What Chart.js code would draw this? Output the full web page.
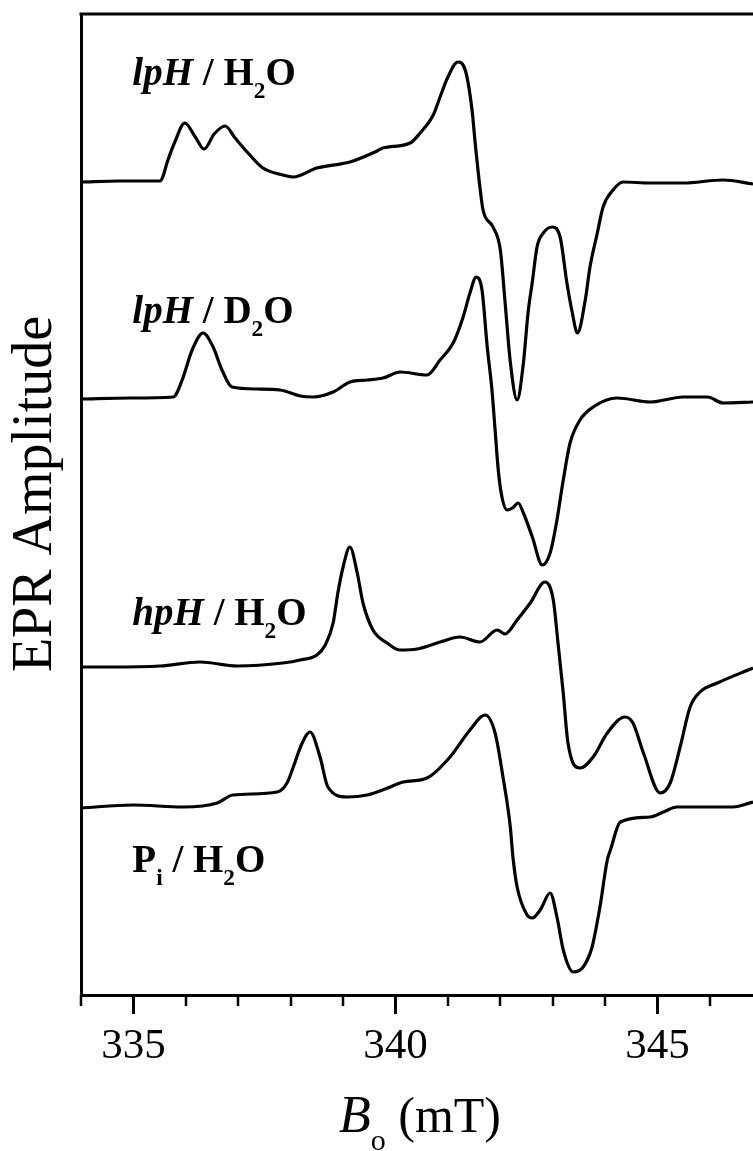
<!DOCTYPE html>
<html>
<head>
<meta charset="utf-8">
<script src="https://cdn.jsdelivr.net/npm/chart.js@4.4.0/dist/chart.umd.min.js"></script>
<style>
  html, body { margin: 0; padding: 0; background: #fff; }
</style>
</head>
<body>
<canvas id="epr" width="753" height="1151"></canvas>
<script>
// field (mT) and amplitude above each trace's own baseline
const fieldA = [334.00,334.74,335.51,335.56,335.64,335.79,335.98,336.18,336.35,336.54,336.75,336.94,337.17,337.47,337.85,338.05,338.50,339.13,339.65,339.76,340.28,340.47,340.72,340.85,341.00,341.19,341.33,341.46,341.52,341.61,341.67,341.86,342.00,342.09,342.19,342.32,342.44,342.53,342.61,342.70,342.82,342.99,343.14,343.27,343.37,343.47,343.62,343.71,343.85,343.96,344.15,344.34,344.86,345.49,346.25,346.82];
const ampA = [0,1,1,5,19,40,59,45,33,48,56,44,30,14,7,5,14,20,31,34,39,49,67,85,105,120,112,72,39,-5,-28,-45,-68,-120,-180,-218,-181,-130,-100,-65,-51,-45,-55,-101,-130,-151,-118,-85,-51,-25,-8,0,-1,-1,2,-2];

const fieldB = [334.00,334.94,335.76,335.93,336.12,336.33,336.52,336.69,336.88,337.36,337.80,338.18,338.43,338.81,339.13,339.46,339.76,340.09,340.60,340.85,341.10,341.29,341.42,341.54,341.65,341.75,341.84,341.90,341.96,342.03,342.13,342.23,342.34,342.44,342.61,342.80,342.95,343.08,343.20,343.33,343.52,343.77,344.23,344.86,345.49,345.95,346.25,346.82];
const ampB = [0,1,2,19,49,66,52,29,12,10,9,3,2,7,17,19,21,27,24,39,56,82,106,122,109,52,9,-31,-71,-98,-111,-109,-104,-114,-138,-166,-154,-121,-81,-44,-21,-8,1,-3,2,2,-4,-3];

const fieldC = [334.00,334.55,335.51,336.27,336.98,337.85,338.18,338.50,338.66,338.81,338.90,339.00,339.13,339.27,339.38,339.57,339.84,340.09,340.41,340.85,341.23,341.61,341.94,342.09,342.32,342.57,342.85,343.01,343.10,343.20,343.29,343.52,343.77,344.04,344.38,344.53,344.73,345.05,345.24,345.43,345.62,345.81,346.14,346.82];
const ampC = [0,0,1,5,1,4,7,12,22,44,74,100,120,94,64,37,24,17,18,25,30,25,37,33,47,64,85,67,24,-26,-76,-101,-90,-66,-50,-56,-86,-126,-116,-80,-40,-25,-16,-1];

const fieldD = [334.00,334.99,335.95,336.60,336.90,337.74,337.93,338.05,338.22,338.37,338.56,338.71,339.08,339.46,339.80,340.15,340.60,341.04,341.42,341.71,341.90,342.05,342.19,342.24,342.32,342.51,342.61,342.76,342.95,343.08,343.20,343.39,343.58,343.75,343.90,344.04,344.10,344.29,344.86,345.11,345.37,346.44,346.82];
const ampD = [0,3,1,5,13,16,25,41,65,76,51,21,11,13,19,26,30,51,78,93,75,31,-19,-49,-79,-107,-110,-102,-85,-109,-142,-164,-159,-139,-99,-52,-42,-14,-9,-4,1,1,6];

// vertical offset of each trace (stacked spectra)
const offsets = [813, 596, 328, 187];

// label text pieces: b = bold, i = italic, s = subscript
const traceLabels = [
    [["lpH","bi"], [" / H","b"], ["2","bs"], ["O","b"]],
    [["lpH","bi"], [" / D","b"], ["2","bs"], ["O","b"]],
    [["hpH","bi"], [" / H","b"], ["2","bs"], ["O","b"]],
    [["P","b"], ["i","bs"], [" / H","b"], ["2","bs"], ["O","b"]]
];
const labelField = 334.98;
const labelLevel = [910, 672, 370, 123];

const tickValues = [334,335,336,337,338,339,340,341,342,343,344,345,346];
const xMin = 334, xMax = 346.82;

const serif = '"Liberation Serif", "Times New Roman", serif';

function makePoints(fields, amps, off){
    var pts = [];
    for (let i = 0; i < fields.length; i++) {
        pts.push({x: fields[i], y: amps[i] + off});
    }
    return pts;
}

function drawRich(ctx, parts, x, y, size){
    parts.forEach((p) => {
        var st = p[1];
        var sub = st.indexOf("s") >= 0;
        var fs = sub ? size * 0.6 : size;
        ctx.font = (st.indexOf("i") >= 0 ? "italic " : "") + (st.indexOf("b") >= 0 ? "bold " : "") + fs + "px " + serif;
        ctx.fillText(p[0], x, sub ? y + size * 0.34 : y);
        x += ctx.measureText(p[0]).width;
    });
}

const decorations = {
    id: "decorations",
    afterDraw(chart){
        const ctx = chart.ctx;
        const area = chart.chartArea;
        const xs = chart.scales.x;
        const ys = chart.scales.y;
        ctx.save();
        ctx.strokeStyle = "#000";
        ctx.fillStyle = "#000";
        // top frame line
        ctx.lineWidth = 3;
        ctx.beginPath();
        ctx.moveTo(area.left - 1.5, area.top);
        ctx.lineTo(area.right, area.top);
        ctx.stroke();
        // minor ticks
        ctx.lineWidth = 2.5;
        tickValues.forEach((v) => {
            if (v % 5 === 0) return;
            var px = Math.round(xs.getPixelForValue(v));
            ctx.beginPath();
            ctx.moveTo(px, area.bottom);
            ctx.lineTo(px, area.bottom + 11);
            ctx.stroke();
        });
        // trace labels
        ctx.textAlign = "left";
        ctx.textBaseline = "alphabetic";
        traceLabels.forEach((parts, i) => {
            drawRich(ctx, parts, xs.getPixelForValue(labelField), ys.getPixelForValue(labelLevel[i]), 39);
        });
        // x axis title: B_o (mT)
        ctx.font = "italic 52px " + serif;
        var wB = ctx.measureText("B").width;
        ctx.font = "30px " + serif;
        var wo = ctx.measureText("o").width;
        ctx.font = "50px " + serif;
        var wU = ctx.measureText(" (mT)").width;
        var cx = (area.left + area.right) / 2 + 3;
        var sx = cx - (wB + wo + wU) / 2;
        var by = 1132;
        ctx.font = "italic 52px " + serif;
        ctx.fillText("B", sx, by);
        ctx.font = "30px " + serif;
        ctx.fillText("o", sx + wB, by + 18);
        ctx.font = "50px " + serif;
        ctx.fillText(" (mT)", sx + wB + wo, by);
        // y axis title
        ctx.translate(51, 494);
        ctx.rotate(-Math.PI / 2);
        ctx.textAlign = "center";
        ctx.font = "56px " + serif;
        ctx.fillText("EPR Amplitude", 0, 0);
        ctx.restore();
    }
};

const series = [
    makePoints(fieldA, ampA, offsets[0]),
    makePoints(fieldB, ampB, offsets[1]),
    makePoints(fieldC, ampC, offsets[2]),
    makePoints(fieldD, ampD, offsets[3])
];

var dataList = series.map((pts) => ({
    data: pts,
    showLine: true,
    borderColor: "#000",
    borderWidth: 3.2,
    pointRadius: 0,
    fill: false,
    cubicInterpolationMode: "monotone"
}));

const ctx = document.getElementById("epr").getContext("2d");
const chart = new Chart(ctx, {
    type: "scatter",
    data: { datasets: dataList },
    plugins: [decorations],
    options: {
        responsive: false,
        animation: false,
        layout: { padding: { top: 14, right: 0, left: 0, bottom: 0 } },
        plugins: {
            legend: { display: false },
            tooltip: { enabled: false }
        },
        scales: {
            x: {
                type: "linear",
                position: "bottom",
                min: xMin,
                max: xMax,
                afterBuildTicks: (scale) => {
                    scale.ticks = tickValues.map((v) => ({value: v}));
                },
                afterFit: (scale) => { scale.height = 156; },
                border: { display: true, color: "#000", width: 3 },
                grid: {
                    drawOnChartArea: false,
                    drawTicks: true,
                    tickLength: 19,
                    tickWidth: 3,
                    tickColor: (c) => (c.tick && c.tick.value % 5 === 0) ? "#000" : "rgba(0,0,0,0)"
                },
                ticks: {
                    color: "#000",
                    padding: 7,
                    maxRotation: 0,
                    autoSkip: false,
                    font: { family: serif, size: 43 },
                    callback: (v) => (v % 5 === 0 ? String(v) : "")
                }
            },
            y: {
                type: "linear",
                min: 0,
                max: 981,
                afterFit: (scale) => { scale.width = 81; },
                border: { display: true, color: "#000", width: 3 },
                grid: { drawOnChartArea: false, drawTicks: false },
                ticks: { display: false }
            }
        }
    }
});
</script>
</body>
</html>
